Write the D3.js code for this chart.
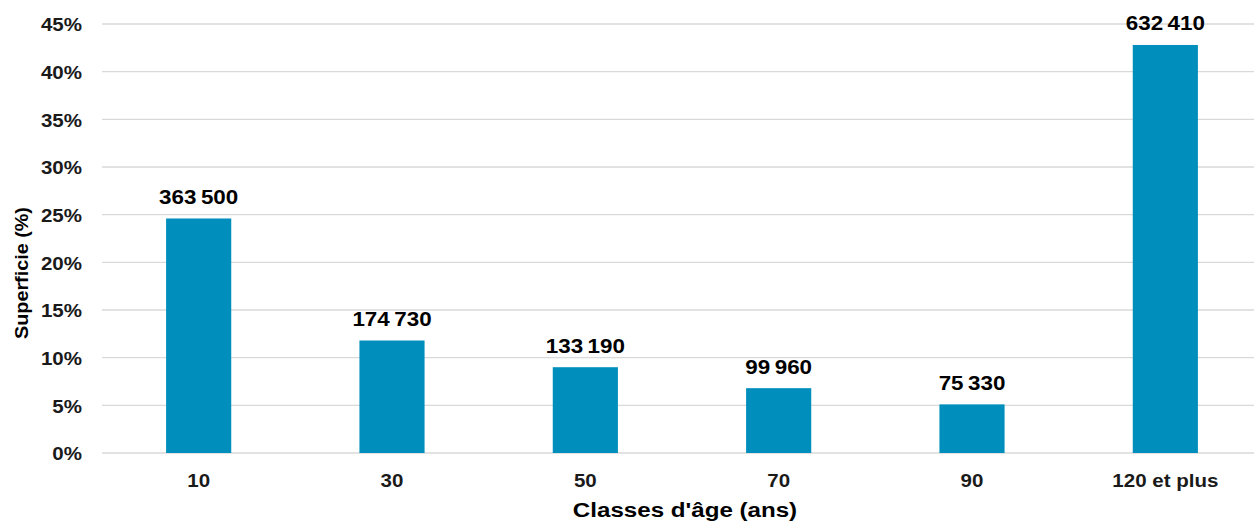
<!DOCTYPE html>
<html>
<head>
<meta charset="utf-8">
<script src="https://cdn.jsdelivr.net/npm/d3@7"></script>
<style>
  body { margin: 0; background: #fff; }
  svg { display: block; font-family: "Liberation Sans", Arial, sans-serif; }
  .grid line { stroke: #d9d9d9; stroke-width: 1.3; }
  .tick text { font-size: 19px; font-weight: bold; fill: #1a1a1a; }
</style>
</head>
<body>
<script>
// age classes and their share of the total area
const classes = ["10", "30", "50", "70", "90", "120 et plus"];
const pct = [24.6, 11.8, 9.0, 6.8, 5.1, 42.8];
const area = [363500, 174730, 133190, 99960, 75330, 632410];
const yTicks = [0, 5, 10, 15, 20, 25, 30, 35, 40, 45];

let W = 1254, H = 522;
let margin = {top: 24, left: 102, bottom: 69};
let plotW = 1160, plotH = H - margin.top - margin.bottom;

let fr = d3.formatLocale({decimal: ",", thousands: "\u202f", grouping: [3], currency: ["", " €"]});
let fmt = fr.format(",d");

let svg = d3.select("body").append("svg")
    .attr("width", W)
    .attr("height", H);

let x = d3.scaleBand()
    .domain(classes)
    .range([margin.left, margin.left + plotW])
    .paddingInner(0.663)
    .paddingOuter(0.3315);

let y = d3.scaleLinear()
    .domain([0, 45])
    .range([margin.top + plotH, margin.top]);

// gridlines
svg.append("g")
    .attr("class", "grid")
    .selectAll("line")
    .data(yTicks)
    .join("line")
    .attr("x1", margin.left)
    .attr("x2", margin.left + plotW)
    .attr("y1", d => y(d))
    .attr("y2", d => y(d));

// y axis labels
let ya = svg.append("g")
    .attr("transform", "translate(" + (margin.left - 20) + ",0)")
    .call(d3.axisLeft(y).tickValues(yTicks).tickSize(0).tickFormat(d => d + "%"));
ya.select(".domain").remove();
ya.selectAll("text")
    .attr("x", 0)
    .attr("dy", "0.36em")
    .attr("transform", "scale(1.08,1)");

// x axis labels
let xa = svg.append("g")
    .attr("transform", "translate(0," + (margin.top + plotH) + ")")
    .call(d3.axisBottom(x).tickSize(0));
xa.select(".domain").remove();
xa.selectAll("text")
    .attr("y", 34)
    .attr("dy", 0)
    .attr("transform", "scale(1.08,1)");

// bars
svg.append("g")
    .selectAll("rect")
    .data(classes)
    .join("rect")
    .attr("x", d => x(d))
    .attr("y", (d, i) => y(pct[i]))
    .attr("width", x.bandwidth())
    .attr("height", (d, i) => y(0) - y(pct[i]))
    .attr("fill", "#008fbc");

// value labels
svg.append("g")
    .selectAll("text")
    .data(classes)
    .join("text")
    .attr("transform", (d, i) => "translate(" + (x(d) + x.bandwidth() / 2) + "," + (y(pct[i]) - 14.5) + ") scale(1.12,1)")
    .attr("text-anchor", "middle")
    .attr("font-size", 20)
    .attr("font-weight", "bold")
    .attr("fill", "#000")
    .text((d, i) => fmt(area[i]));

// axis titles
svg.append("text")
    .attr("transform", "translate(685,517) scale(1.15,1)")
    .attr("text-anchor", "middle")
    .attr("font-size", 21)
    .attr("font-weight", "bold")
    .attr("fill", "#000")
    .text("Classes d'âge (ans)");

svg.append("text")
    .attr("transform", "translate(28,273) rotate(-90) scale(1.1,1)")
    .attr("text-anchor", "middle")
    .attr("font-size", 18)
    .attr("font-weight", "bold")
    .attr("fill", "#000")
    .text("Superficie (%)");
</script>
</body>
</html>
